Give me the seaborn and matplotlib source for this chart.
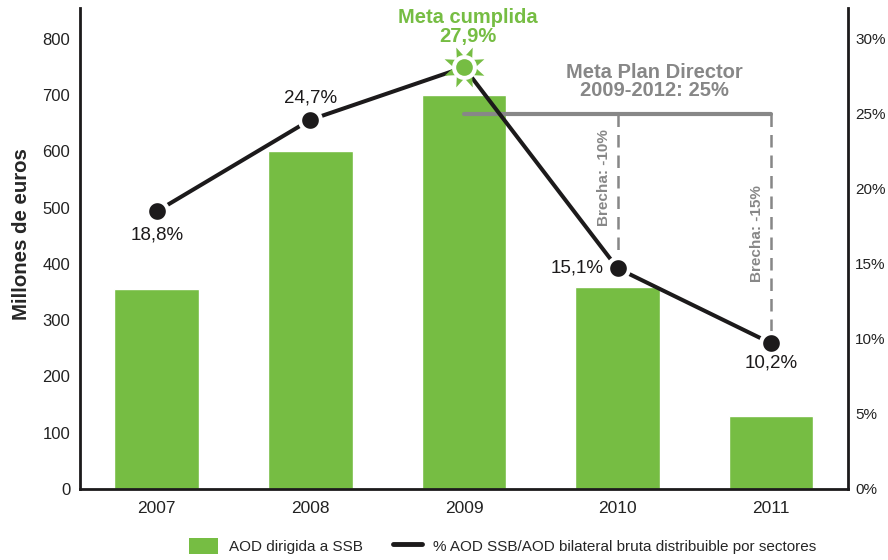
import matplotlib
matplotlib.use('Agg')
import matplotlib.pyplot as plt
import seaborn as sns
import pandas as pd
from matplotlib.patches import Patch
from matplotlib.lines import Line2D

years = ['2007', '2008', '2009', '2010', '2011']
aod_ssb = [355, 600, 700, 358, 130]          # millones de euros
pct_ssb = [18.5, 24.6, 28.1, 14.7, 9.7]      # % as drawn in the picture
pct_labels = ['18,8%', '24,7%', '27,9%', '15,1%', '10,2%']
meta_pd = 25
meta_years = ['2009', '2010', '2011']
brecha_years = ['2010', '2011']
brecha_labels = ['Brecha: -10%', 'Brecha: -15%']

GREEN = '#76bd43'
GREY = '#878787'
BLACK = '#1c1a1b'

sns.set_style('white')
plt.rcParams['font.family'] = ['Liberation Sans', 'DejaVu Sans']

df = pd.DataFrame({'year': years, 'aod': aod_ssb, 'pct': pct_ssb})

fig = plt.figure(figsize=(8.88, 5.6), dpi=100)
ax = fig.add_axes([0.090, 0.127, 0.865, 0.859])
sns.barplot(data=df, x='year', y='aod', color=GREEN, width=0.55,
            saturation=1, ax=ax, zorder=1)

ax2 = ax.twinx()
pos = {y: i for i, y in enumerate(years)}
ymax_left = 855
ax.set_ylim(0, ymax_left)
ax2.set_ylim(0, ymax_left / 800 * 30)
ax.set_xlim(-0.5, len(years) - 0.5)

# meta line at 25%
ax2.plot([pos[y] for y in [meta_years[0], meta_years[-1]]], [meta_pd, meta_pd],
         color=GREY, lw=3, solid_capstyle='round', zorder=2)
brecha_shift = {'2010': 0.9, '2011': -0.3}
for yr, lab in zip(brecha_years, brecha_labels):
    p = pct_ssb[pos[yr]]
    ax2.plot([pos[yr], pos[yr]], [meta_pd, p], color=GREY, lw=1.8,
             ls=(0, (5, 3.2)), zorder=2)
    ax2.text(pos[yr] - 0.09, (meta_pd + p) / 2 + brecha_shift[yr],
             lab, rotation=90, ha='center', va='center', color=GREY,
             fontsize=11, fontweight='bold')

sns.pointplot(data=df, x='year', y='pct', color=BLACK, ax=ax2,
              markers='o', markersize=15, markeredgecolor='white',
              markeredgewidth=3, linewidth=2.9, zorder=3)
ax2.set_xlim(-0.5, len(years) - 0.5)

# sun marker on 2009 (meta cumplida)
i9 = pos['2009']
ax2.plot(i9, pct_ssb[i9], marker=(8, 1, 22.5), ms=31, color=GREEN, mew=0, zorder=4)
ax2.plot(i9, pct_ssb[i9], marker='o', ms=18, color='white', mew=0, zorder=5)
ax2.plot(i9, pct_ssb[i9], marker='o', ms=12, color=GREEN, mew=0, zorder=6)

# labels for points
offs = {'2007': (0, -17), '2008': (0, 16), '2010': (-29, 0), '2011': (0, -14.5)}
for yr, (dx, dy) in offs.items():
    i = pos[yr]
    ax2.annotate(pct_labels[i], (i, pct_ssb[i]), xytext=(dx, dy),
                 textcoords='offset points', ha='center', va='center',
                 fontsize=13.5, color=BLACK)
ax2.annotate('Meta cumplida\n' + pct_labels[i9], (i9, pct_ssb[i9]),
             xytext=(3, 29), textcoords='offset points', ha='center',
             va='center', fontsize=14.5, fontweight='bold', color=GREEN,
             linespacing=1.0)
ax2.text(pos['2010'] + 0.24, 27.13, 'Meta Plan Director\n2009-2012: 25%',
         ha='center', va='center', fontsize=14.5, fontweight='bold',
         color=GREY, linespacing=0.95)

# axes styling
ax.set_yticks(range(0, 900, 100))
ax2.set_yticks(range(0, 35, 5))
ax2.set_yticklabels([f'{v}%' for v in range(0, 35, 5)])
ax.tick_params(axis='y', length=0, pad=7, labelsize=12, colors='#222222')
ax2.tick_params(axis='y', length=0, pad=5, labelsize=11, colors='#222222')
ax.set_xticks(range(len(years)))
ax.set_xticklabels(years)
ax.tick_params(axis='x', length=0, pad=9, labelsize=12.5, colors='#222222')
ax.set_xticks([i + 0.5 for i in range(len(years) - 1)], minor=True)
ax.tick_params(axis='x', which='minor', direction='in', length=11.5,
               width=2, color=BLACK)
ax.set_xlabel('')
ax.set_ylabel('Millones de euros', fontsize=14.7, fontweight='bold')
ax.yaxis.set_label_coords(-0.064, 0.53)
ax2.set_ylabel('')
ax2.set_xlabel('')
for a in (ax, ax2):
    a.spines['top'].set_visible(False)
    for s in ('left', 'right', 'bottom'):
        a.spines[s].set_linewidth(2)
        a.spines[s].set_color(BLACK)
ax2.spines['left'].set_visible(False)
ax2.spines['bottom'].set_visible(False)
ax.spines['right'].set_visible(False)
ax2.grid(False)
ax.grid(False)

handles = [Patch(facecolor=GREEN, edgecolor='none'),
           Line2D([0], [0], color=BLACK, lw=3.5, solid_capstyle='round')]
fig.legend(handles, ['AOD dirigida a SSB',
                     '% AOD SSB/AOD bilateral bruta distribuible por sectores'],
           loc='center', bbox_to_anchor=(0.566, 0.025), ncol=2, frameon=False,
           handlelength=1.9, handleheight=1.3, columnspacing=2.0,
           handletextpad=0.7, prop={'family': 'Liberation Sans', 'size': 11})

fig.savefig('out.png', dpi=100)
